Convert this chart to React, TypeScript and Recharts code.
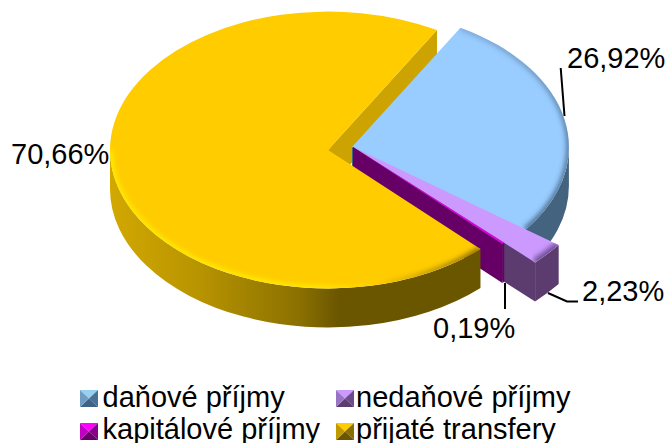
import React from "react";
import { PieChart, Pie, Legend } from "recharts";

const categories = ["daňové příjmy", "nedaňové příjmy", "kapitálové příjmy", "přijaté transfery"];
const shares = [26.92, 2.23, 0.19, 70.66];
const labels = ["26,92%", "2,23%", "0,19%", "70,66%"];
const rows = categories.map((name, i) => ({ name, value: shares[i] }));

const FONT = "'Liberation Sans', Arial, sans-serif";
const SQUASH = 0.635;
const DEPTH = 39;
const CX = 340;
const CY = 148;
const R = 218;
const EXPLODE = [[12, -1], [13, -1], [13, -1], [-12, 2]];
const RADIUS_SCALE = [0.995, 1.18, 0.98, 1];
const TOP = ["#99ccff", "#cc99ff", "#e000e0", "#ffcc00"];
const RIM = ["#3f5f7f", "#6f4f95", "#cc00cc", "#8a6e00"];
const WALL = ["#44637f", "#5c3b6e", "#660066", "#8a6f00"];
const FACE = ["#44637f", "#5c3b6e", "#660066", "#cca300"];
const RIM_WIDTH = [5, 8, 0, 5];
const ICONS = [
  ["#99d0f0", "#4a7096", "#3f6285", "#6f9cc4"],
  ["#cc99ff", "#6d4a8a", "#5c3b6e", "#9a74c4"],
  ["#ff00ff", "#8a008a", "#660066", "#c000c0"],
  ["#ffcc00", "#8a6f00", "#6b5600", "#c09a00"],
];
const LABEL_SPOTS = [
  { x: 567, y: 68, line: "560.7,68 564.5,116" },
  { x: 582, y: 301, line: "548,293 567,301.5 578,301.5" },
  { x: 433, y: 338, line: "505,283 505,309" },
  { x: 11, y: 164, line: "" },
];
const LEGEND_SPOTS = [
  { left: 80, top: 381, pad: 22.5, icon: 9 },
  { left: 336, top: 381, pad: 20, icon: 9 },
  { left: 80, top: 413, pad: 22.5, icon: 10 },
  { left: 336, top: 413, pad: 20, icon: 10 },
];

const pt = (x: number, y: number, rx: number, a: number) => {
  const t = (a * Math.PI) / 180;
  return [x + rx * Math.cos(t), y - rx * SQUASH * Math.sin(t)];
};

function slicePaths(p: any) {
  const i = p.index ?? 0;
  const ax = p.cx + EXPLODE[i][0];
  const ay = p.cy + EXPLODE[i][1];
  const rx = p.outerRadius * RADIUS_SCALE[i];
  const ry = rx * SQUASH;
  const s = pt(ax, ay, rx, p.startAngle);
  const e = pt(ax, ay, rx, p.endAngle);
  const large = Math.abs(p.startAngle - p.endAngle) > 180 ? 1 : 0;
  const top = `M${ax},${ay}L${s[0]},${s[1]}A${rx},${ry} 0 ${large} 1 ${e[0]},${e[1]}Z`;
  const face = `M${ax},${ay}L${e[0]},${e[1]}L${e[0]},${e[1] + DEPTH}L${ax},${ay + DEPTH}Z`;
  const hi = Math.min(p.startAngle, 0);
  const lo = Math.max(p.endAngle, -180);
  let wall = "";
  if (hi > lo) {
    const a = pt(ax, ay, rx, hi);
    const b = pt(ax, ay, rx, lo);
    wall = `M${a[0]},${a[1]}A${rx},${ry} 0 0 1 ${b[0]},${b[1]}L${b[0]},${b[1] + DEPTH}A${rx},${ry} 0 0 0 ${a[0]},${a[1] + DEPTH}Z`;
  }
  const arc =
    i === 3 && wall
      ? (() => {
          const a = pt(ax, ay, rx, hi);
          const b = pt(ax, ay, rx, lo);
          return `M${a[0]},${a[1]}A${rx},${ry} 0 0 1 ${b[0]},${b[1]}`;
        })()
      : `M${s[0]},${s[1]}A${rx},${ry} 0 ${large} 1 ${e[0]},${e[1]}`;
  return { i, top, arc, face, wall };
}

const BackFace = (p: any) => {
  const { i, face } = slicePaths(p);
  return i === 3 ? <path d={face} fill={FACE[3]} /> : <g />;
};

const Slice = (p: any) => {
  const { i, top, arc, face, wall } = slicePaths(p);
  return (
    <g>
      <defs>
        <clipPath id={`clip${i}`}>
          <path d={top} />
        </clipPath>
        <filter id={`blur${i}`} x="-10%" y="-10%" width="120%" height="120%">
          <feGaussianBlur stdDeviation="2.5" />
        </filter>
        {i === 3 ? (
          <linearGradient id="rim3" gradientUnits="userSpaceOnUse" x1="110" y1="0" x2="480" y2="0">
            <stop offset="0" stopColor="#fff000" />
            <stop offset="0.55" stopColor="#fff000" />
            <stop offset="0.72" stopColor="#ffcc00" />
            <stop offset="1" stopColor="#7a6200" />
          </linearGradient>
        ) : (
          <linearGradient id={`rim${i}`} gradientUnits="userSpaceOnUse" x1="0" y1="20" x2="0" y2="290">
            <stop offset="0" stopColor={RIM[i]} stopOpacity={0.3} />
            <stop offset="0.45" stopColor={RIM[i]} stopOpacity={0.8} />
            <stop offset="0.85" stopColor={RIM[i]} stopOpacity={1} />
          </linearGradient>
        )}
        <linearGradient id={`wall${i}`} gradientUnits="userSpaceOnUse" x1="110" y1="0" x2="575" y2="0">
          {i === 3 ? (
            <>
              <stop offset="0" stopColor="#d2a800" />
              <stop offset="0.19" stopColor="#b89400" />
              <stop offset="0.41" stopColor="#8a7000" />
              <stop offset="0.49" stopColor="#6b5600" />
            </>
          ) : (
            <>
              <stop offset="0" stopColor={WALL[i]} />
              <stop offset="1" stopColor={WALL[i]} />
            </>
          )}
        </linearGradient>
      </defs>
      {i !== 3 && <path d={face} fill={FACE[i]} />}
      {wall && <path d={wall} fill={`url(#wall${i})`} />}
      <path d={top} fill={TOP[i]} />
      {RIM_WIDTH[i] > 0 && (
        <g clipPath={`url(#clip${i})`}>
          <path d={arc} fill="none" stroke={`url(#rim${i})`} strokeWidth={RIM_WIDTH[i]} filter={`url(#blur${i})`} />
        </g>
      )}
    </g>
  );
};

const SliceLabel = (p: any) => {
  const spot = LABEL_SPOTS[p.index];
  return (
    <g>
      {spot.line && <polyline points={spot.line} fill="none" stroke="#000" strokeWidth={2} />}
      <text x={spot.x} y={spot.y} fontFamily={FONT} fontSize={29} fill="#000">
        {labels[p.index]}
      </text>
    </g>
  );
};

const Icon = ({ c, top }: { c: string[]; top: number }) => (
  <svg width={18} height={17} style={{ position: "absolute", left: 0, top }}>
    <polygon points="0,0 18,0 9,8.5" fill={c[0]} />
    <polygon points="18,0 18,17 9,8.5" fill={c[1]} />
    <polygon points="0,17 18,17 9,8.5" fill={c[2]} />
    <polygon points="0,0 0,17 9,8.5" fill={c[3]} />
  </svg>
);

const LegendBox = () => (
  <div style={{ position: "relative", width: 667, height: 443 }}>
    {categories.map((name, i) => (
      <div
        key={name}
        style={{
          position: "absolute",
          left: LEGEND_SPOTS[i].left,
          top: LEGEND_SPOTS[i].top,
          height: 32,
          whiteSpace: "nowrap",
          fontFamily: FONT,
          fontSize: 29,
          lineHeight: "32px",
          color: "#000",
          paddingLeft: LEGEND_SPOTS[i].pad,
        }}
      >
        <Icon c={ICONS[i]} top={LEGEND_SPOTS[i].icon} />
        {name}
      </div>
    ))}
  </div>
);

export default function App() {
  return (
    <div style={{ position: "absolute", left: 0, top: 0, width: 667, height: 443, overflow: "hidden", background: "#fff" }}>
      <PieChart width={667} height={443} margin={{ top: 0, right: 0, bottom: 0, left: 0 }}>
        <Pie
          data={rows}
          dataKey="value"
          nameKey="name"
          cx={CX}
          cy={CY}
          innerRadius={0}
          outerRadius={R}
          startAngle={60}
          endAngle={-300}
          stroke="none"
          legendType="none"
          shape={BackFace}
          isAnimationActive={false}
          label={false}
          labelLine={false}
        />
        <Pie
          data={rows}
          dataKey="value"
          nameKey="name"
          cx={CX}
          cy={CY}
          innerRadius={0}
          outerRadius={R}
          startAngle={60}
          endAngle={-300}
          stroke="none"
          shape={Slice}
          isAnimationActive={false}
          label={SliceLabel}
          labelLine={false}
        />
        <Legend content={LegendBox} wrapperStyle={{ position: "absolute", left: 0, top: 0, width: 667, height: 443, bottom: "auto", pointerEvents: "none" }} />
      </PieChart>
    </div>
  );
}
